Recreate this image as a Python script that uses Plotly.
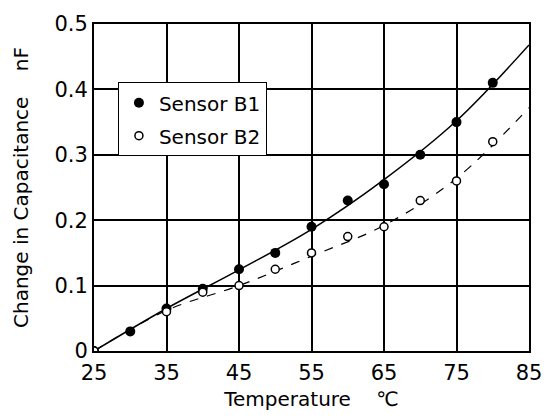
import plotly.graph_objects as go

# Measured data
temp_b1 = [25, 30, 35, 40, 45, 50, 55, 60, 65, 70, 75, 80]
cap_b1 = [0.0, 0.03, 0.065, 0.095, 0.125, 0.15, 0.19, 0.23, 0.255, 0.30, 0.35, 0.41]
temp_b2 = [25, 35, 40, 45, 50, 55, 60, 65, 70, 75, 80]
cap_b2 = [0.0, 0.06, 0.09, 0.10, 0.125, 0.15, 0.175, 0.19, 0.23, 0.26, 0.32]

# Fitted curves
fit_x = [25, 35, 45, 55, 65, 75, 85]
fit_b1 = [0.0, 0.065, 0.124, 0.186, 0.262, 0.352, 0.468]
fit_b2 = [0.0, 0.062, 0.100, 0.145, 0.192, 0.264, 0.372]

x_ticks = [25, 35, 45, 55, 65, 75, 85]
y_ticks = [0, 0.1, 0.2, 0.3, 0.4, 0.5]
y_tick_labels = ["0", "0.1", "0.2", "0.3", "0.4", "0.5"]

font_family = "DejaVu Sans, sans-serif"

fig = go.Figure()
fig.add_trace(go.Scatter(x=fit_x, y=fit_b1, mode="lines", line=dict(color="black", width=1.5, shape="spline"),
                         showlegend=False, hoverinfo="skip"))
fig.add_trace(go.Scatter(x=fit_x, y=fit_b2, mode="lines", line=dict(color="black", width=1.2, dash="dash", shape="spline"),
                         showlegend=False, hoverinfo="skip"))
fig.add_trace(go.Scatter(x=temp_b1, y=cap_b1, mode="markers", name="Sensor B1", legendgroup="b1",
                         marker=dict(symbol="circle", size=10, color="black")))
fig.add_trace(go.Scatter(x=temp_b2, y=cap_b2, mode="markers", name="Sensor B2", legendgroup="b2",
                         marker=dict(symbol="circle", size=8, color="white", line=dict(color="black", width=1.5))))

fig.update_layout(
    width=554, height=419,
    margin=dict(l=94, r=23, t=17, b=67),
    paper_bgcolor="white", plot_bgcolor="white",
    font=dict(family=font_family, color="black", size=17),
    legend=dict(x=0.055, y=0.822, xanchor="left", yanchor="top", bgcolor="white",
                bordercolor="black", borderwidth=1, font=dict(size=20), tracegroupgap=4),
    xaxis=dict(range=[25, 85], tickvals=x_ticks, ticks="", showgrid=True, gridcolor="black", gridwidth=1.5,
               showline=True, linecolor="black", linewidth=2, mirror=True, zeroline=False,
               title=dict(text="Temperature &nbsp;&nbsp;&nbsp;℃", font=dict(size=20), standoff=8),
               tickfont=dict(size=21), ticklabelstandoff=2),
    yaxis=dict(range=[0, 0.5], tickvals=y_ticks, ticktext=y_tick_labels, ticks="", showgrid=True, gridcolor="black",
               gridwidth=1.5, showline=True, linecolor="black", linewidth=2, mirror=True, zeroline=False,
               title=dict(text="Change in Capacitance &nbsp;&nbsp;&nbsp;nF", font=dict(size=20), standoff=20),
               tickfont=dict(size=21)),
)

fig.write_html("out.html")
